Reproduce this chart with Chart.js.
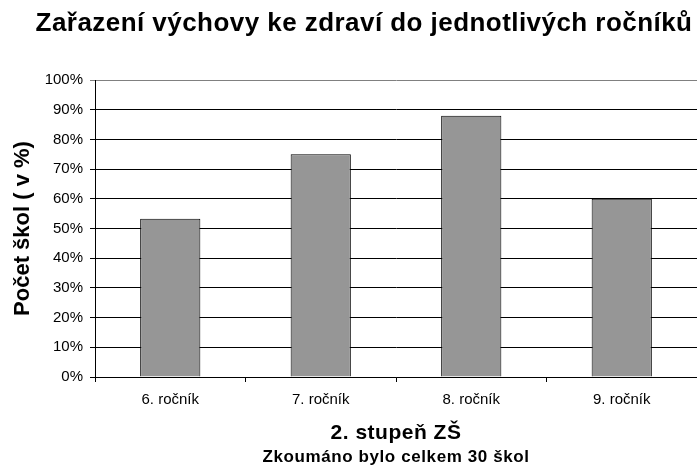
<!DOCTYPE html>
<html>
<head>
<meta charset="utf-8">
<script src="https://cdn.jsdelivr.net/npm/chart.js@4.4.0/dist/chart.umd.min.js"></script>
<style>
  html, body { margin: 0; padding: 0; background: #fff; }
  #wrap { width: 697px; height: 469px; }
</style>
</head>
<body>
<div id="wrap"><canvas id="graf" width="697" height="469"></canvas></div>
<script>
const rocniky = ['6. ročník', '7. ročník', '8. ročník', '9. ročník'];
const podilSkol = [53.3, 75, 88, 60];
const osaY = { min: 0, max: 100, krok: 10 };

const nadpis = 'Zařazení výchovy ke zdraví do jednotlivých ročníků';
const popisX = '2. stupeň ZŠ';
const poznamka = 'Zkoumáno bylo celkem 30 škol';
const popisY = 'Počet škol ( v %)';

const pismo = '"Liberation Sans", Arial, sans-serif';

// nadpis, popis osy x a poznamka
const texty = {
  id: 'texty',
  afterDraw(chart) {
    const ctx = chart.ctx;
    const area = chart.chartArea;
    const stred = (area.left + area.right) / 2;
    ctx.save();
    ctx.fillStyle = '#000';
    ctx.textAlign = 'center';
    ctx.textBaseline = 'middle';
    ctx.font = 'bold 26px ' + pismo;
    ctx.letterSpacing = '0.45px';
    ctx.fillText(nadpis, 364, 24);
    ctx.font = 'bold 21px ' + pismo;
    ctx.letterSpacing = '0.5px';
    ctx.fillText(popisX, stred, 433);
    ctx.font = 'bold 17px ' + pismo;
    ctx.letterSpacing = '0.6px';
    ctx.fillText(poznamka, stred, 457);
    ctx.restore();
  }
};

const ctx = document.getElementById('graf').getContext('2d');
new Chart(ctx, {
  type: 'bar',
  data: {
    labels: rocniky,
    datasets: [{
      data: podilSkol,
      backgroundColor: '#969696',
      borderColor: '#000',
      borderWidth: 1,
      categoryPercentage: 1,
      barPercentage: 0.4
    }]
  },
  options: {
    responsive: false,
    animation: false,
    layout: { padding: { top: 80, right: 0, bottom: 0, left: 0 } },
    plugins: {
      legend: { display: false },
      tooltip: { enabled: false }
    },
    scales: {
      x: {
        afterFit(scale) { scale.height = 92; },
        grid: { drawOnChartArea: false, color: '#000', tickLength: 5, offset: true },
        border: { color: '#000' },
        ticks: { color: '#000', padding: 9, font: { family: pismo, size: 15 } }
      },
      y: {
        min: osaY.min,
        max: osaY.max,
        afterFit(scale) { scale.width = 95; },
        grid: {
          color: (c) => c.tick && c.tick.value === osaY.max ? '#808080' : '#000',
          tickLength: 5
        },
        border: { color: '#000' },
        ticks: {
          stepSize: osaY.krok,
          color: '#000',
          padding: 7,
          font: { family: pismo, size: 15 },
          callback: (v) => v + '%'
        },
        title: {
          display: true,
          text: popisY,
          color: '#000',
          padding: { top: 10, bottom: 0 },
          font: { family: pismo, size: 22, weight: 'bold' }
        }
      }
    }
  },
  plugins: [texty]
});
</script>
</body>
</html>
